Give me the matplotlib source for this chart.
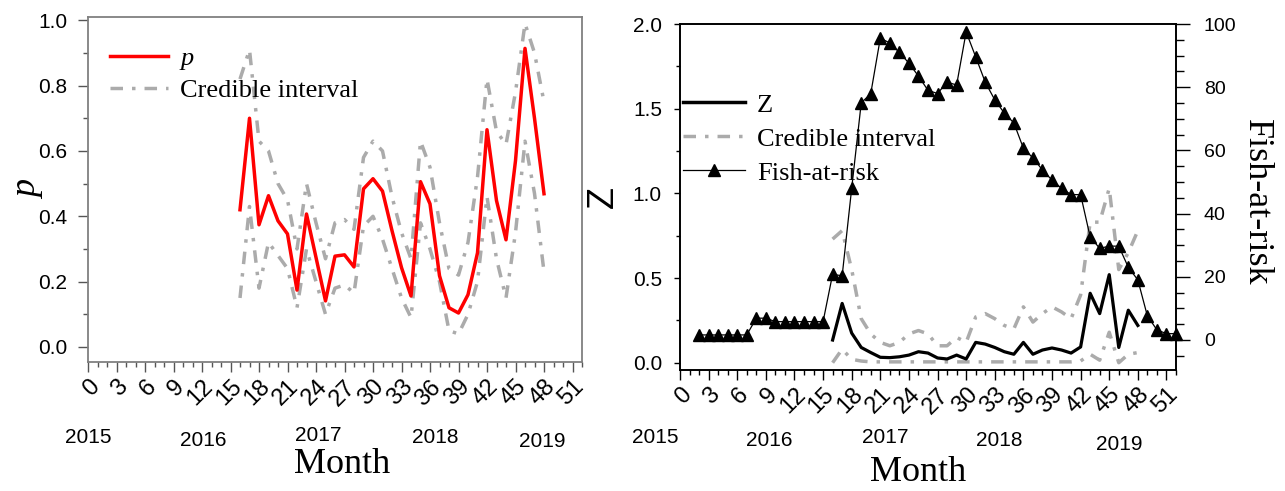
import numpy as np
import matplotlib
matplotlib.use("Agg")
import matplotlib.pyplot as plt
from matplotlib.ticker import MultipleLocator
from matplotlib.lines import Line2D

plt.rcParams['font.family'] = ['Liberation Sans', 'DejaVu Sans']
SERIF = ['Liberation Serif', 'DejaVu Serif']

# ---- data ----
months_p = np.arange(16, 49)
p_mean = [0.42, 0.70, 0.374, 0.463, 0.386, 0.346, 0.174, 0.407, 0.274, 0.141,
          0.278, 0.282, 0.245, 0.484, 0.515, 0.477, 0.356, 0.243, 0.156, 0.506,
          0.438, 0.218, 0.12, 0.104, 0.16, 0.288, 0.665, 0.448, 0.328, 0.57,
          0.914, 0.70, 0.469]
p_upper = [0.82, 0.91, 0.63, 0.60, 0.50, 0.45, 0.30, 0.50, 0.38, 0.27,
           0.38, 0.39, 0.36, 0.58, 0.63, 0.60, 0.46, 0.35, 0.27, 0.63,
           0.55, 0.38, 0.24, 0.22, 0.32, 0.52, 0.82, 0.66, 0.62, 0.78,
           0.99, 0.90, 0.75]
p_lower = [0.15, 0.43, 0.18, 0.32, 0.28, 0.24, 0.12, 0.30, 0.20, 0.10,
           0.18, 0.19, 0.165, 0.37, 0.40, 0.33, 0.24, 0.15, 0.09, 0.38,
           0.30, 0.20, 0.05, 0.04, 0.10, 0.20, 0.46, 0.27, 0.15, 0.35,
           0.63, 0.47, 0.23]

months_z = np.arange(16, 49)
z_mean = [0.134, 0.35, 0.175, 0.09, 0.06, 0.032, 0.03, 0.035, 0.045, 0.065,
          0.057, 0.028, 0.022, 0.045, 0.022, 0.12, 0.11, 0.09, 0.065, 0.05,
          0.12, 0.05, 0.075, 0.087, 0.075, 0.057, 0.093, 0.41, 0.29, 0.52,
          0.09, 0.31, 0.22]
z_upper = [0.73, 0.78, 0.55, 0.26, 0.17, 0.12, 0.10, 0.12, 0.17, 0.19,
           0.17, 0.10, 0.10, 0.15, 0.12, 0.27, 0.29, 0.26, 0.22, 0.20,
           0.33, 0.24, 0.29, 0.33, 0.30, 0.26, 0.40, 0.83, 0.83, 1.03,
           0.55, 0.65, 0.78]
z_lower = [0.0, 0.08, 0.02, 0.01, 0.005, 0.005, 0.005, 0.005, 0.005, 0.005,
           0.005, 0.005, 0.005, 0.005, 0.005, 0.005, 0.005, 0.005, 0.005, 0.005,
           0.005, 0.005, 0.005, 0.005, 0.005, 0.005, 0.01, 0.05, 0.015, 0.18,
           0.0, 0.05, 0.06]

months_fish = np.arange(2, 53)
fish = [1.6, 1.6, 1.6, 1.6, 1.6, 1.6, 6.9, 6.9, 5.8, 5.8,
        5.8, 5.8, 5.8, 5.8, 20.8, 20.3, 48, 75, 78, 95.5,
        94, 91, 87.6, 83.5, 79, 78, 81.6, 80.7, 97.5, 89.6,
        81.6, 76, 71.8, 68.7, 60.7, 57.6, 53.8, 50.6, 48, 46,
        46, 32.6, 29, 29.7, 29.7, 23, 19, 7.6, 3.2, 2, 2]

years = ['2015', '2016', '2017', '2018', '2019']

# ---- styles ----
ci_color = '#ababab'
ci_ls = (0, (3.6, 2.6, 1.0, 2.6))
tick_fs = 15
leg_fs = 19
lab_fs = 26

fig = plt.figure(figsize=(12.85, 4.91), dpi=100)
ax1 = fig.add_axes([88 / 1285, 1 - 362 / 491, 494 / 1285, 345 / 491])
ax2 = fig.add_axes([680 / 1285, 1 - 370 / 491, 496 / 1285, 346 / 491])
ax3 = ax2.twinx()


def style_xaxis(ax):
    ax.set_xlim(0, 52)
    ax.xaxis.set_major_locator(MultipleLocator(3))
    ax.xaxis.set_minor_locator(MultipleLocator(1))
    ax.tick_params(axis='x', which='major', length=7, width=1, pad=3, labelsize=17)
    ax.tick_params(axis='x', which='minor', length=3.5, width=1)
    for lab in ax.get_xticklabels():
        lab.set_rotation(45)
        lab.set_ha('right')
        lab.set_rotation_mode('anchor')


# ---- left panel: p ----
ax1.plot(months_p, p_upper, color=ci_color, lw=2.5, ls=ci_ls)
ax1.plot(months_p, p_lower, color=ci_color, lw=2.5, ls=ci_ls)
ax1.plot(months_p, p_mean, color='red', lw=2.5)
ax1.set_ylim(-0.046, 1.01)
ax1.yaxis.set_major_locator(MultipleLocator(0.2))
ax1.yaxis.set_minor_locator(MultipleLocator(0.1))
ax1.yaxis.set_major_formatter(matplotlib.ticker.FormatStrFormatter('%.1f'))
ax1.tick_params(axis='y', which='major', length=7, width=1, pad=8, labelsize=tick_fs)
ax1.tick_params(axis='y', which='minor', length=3.5, width=1)
style_xaxis(ax1)
for sp in ax1.spines.values():
    sp.set_color('#808080')
    sp.set_linewidth(1.3)
ax1.tick_params(which='both', color='#555555')

ax1.set_ylabel('p', fontsize=lab_fs, family=SERIF, style='italic')
ax1.yaxis.set_label_coords(-0.087, 0.5)
ax1.set_xlabel('Month', fontsize=lab_fs, family=SERIF)
ax1.xaxis.set_label_coords(0.514, -0.25)

left_year_x = [0, 12.1, 24.2, 36.6, 47.8]
left_year_y = [-0.218, -0.227, -0.214, -0.218, -0.229]
for yr, xx, yy in zip(years, left_year_x, left_year_y):
    ax1.text(xx, yy, yr, transform=ax1.get_xaxis_transform(), ha='center',
             va='center', fontsize=15)

h_p = Line2D([], [], color='red', lw=2.5)
h_ci = Line2D([], [], color=ci_color, lw=2.5, ls=ci_ls)
leg1 = ax1.legend([h_p, h_ci], ['p', 'Credible interval'], loc='upper left',
                  bbox_to_anchor=(0.045, 0.915), frameon=False, borderpad=0,
                  borderaxespad=0, handlelength=2.2, handletextpad=0.45,
                  labelspacing=0.34, prop={'family': SERIF, 'size': leg_fs})
leg1.get_texts()[0].set_fontstyle('italic')

# ---- right panel: Z and fish-at-risk ----
ax2.plot(months_z, z_upper, color=ci_color, lw=2.5, ls=ci_ls)
ax2.plot(months_z, z_lower, color=ci_color, lw=2.5, ls=ci_ls)
ax2.plot(months_z, z_mean, color='black', lw=2.3)
ax2.set_ylim(-0.043, 2.0)
ax2.yaxis.set_major_locator(MultipleLocator(0.5))
ax2.yaxis.set_minor_locator(MultipleLocator(0.25))
ax2.yaxis.set_major_formatter(matplotlib.ticker.FormatStrFormatter('%.1f'))
ax2.tick_params(axis='y', which='major', length=4, width=1, pad=9, labelsize=tick_fs)
ax2.tick_params(axis='y', which='minor', length=3, width=1)
style_xaxis(ax2)

ax3.plot(months_fish, fish, color='black', lw=0.9, marker='^', ms=9,
         clip_on=False, zorder=5)
ax3.set_ylim(-9.5, 100)
ax3.yaxis.set_major_locator(MultipleLocator(20))
ax3.yaxis.set_minor_locator(MultipleLocator(5))
ax3.tick_params(axis='y', which='major', length=10, width=1, pad=10, labelsize=14)
ax3.tick_params(axis='y', which='minor', length=6, width=1)
for ax in (ax2, ax3):
    for sp in ax.spines.values():
        sp.set_color('black')
        sp.set_linewidth(1.2)

ax2.set_ylabel('Z', fontsize=lab_fs)
ax2.yaxis.set_label_coords(-0.12, 0.5)
ax2.set_xlabel('Month', fontsize=lab_fs, family=SERIF)
ax2.xaxis.set_label_coords(0.48, -0.248)
ax3.set_ylabel('Fish-at-risk', fontsize=lab_fs, family=SERIF, rotation=270,
               va='bottom')
ax3.yaxis.set_label_coords(1.13, 0.486)

right_year_x = [-2.6, 9.4, 21.5, 33.5, 46]
right_year_y = [-0.194, -0.205, -0.194, -0.205, -0.214]
for yr, xx, yy in zip(years, right_year_x, right_year_y):
    ax2.text(xx, yy, yr, transform=ax2.get_xaxis_transform(), ha='center',
             va='center', fontsize=15)

h_z = Line2D([], [], color='black', lw=2.5)
h_f = Line2D([], [], color='black', lw=0.9, marker='^', ms=9)
ax3.legend([h_z, h_ci, h_f], ['Z', 'Credible interval', 'Fish-at-risk'],
           loc='upper left', bbox_to_anchor=(0.006, 0.8), frameon=False,
           borderpad=0, borderaxespad=0, handlelength=2.35, handletextpad=0.45,
           labelspacing=0.4, numpoints=1, prop={'family': SERIF, 'size': leg_fs})

fig.savefig('out.png', dpi=100)
